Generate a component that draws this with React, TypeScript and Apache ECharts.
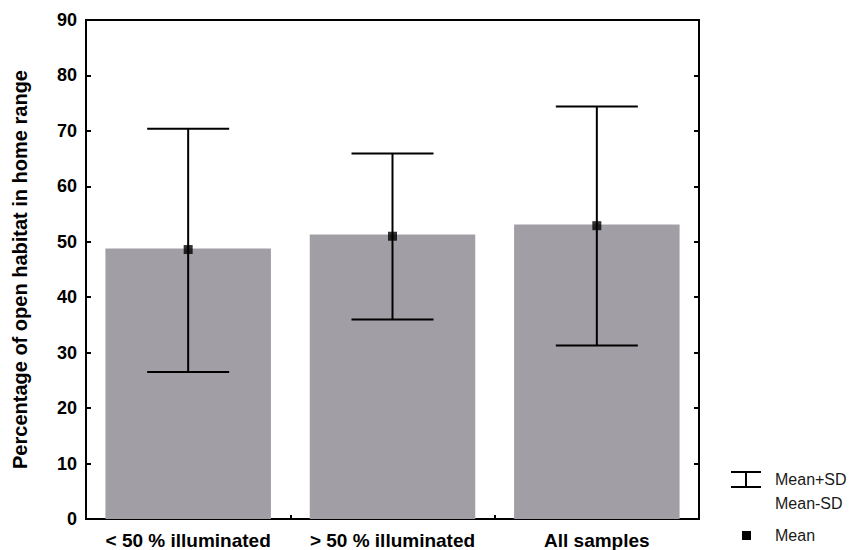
import React, { useEffect, useRef } from "react";
import * as echarts from "echarts";

const categories = ["< 50 % illuminated", "> 50 % illuminated", "All samples"];
const barValues = [48.8, 51.3, 53.1];
const meanValues = [48.6, 51.0, 52.9];
const upperValues = [70.4, 65.9, 74.4];
const lowerValues = [26.5, 36.0, 31.3];
const yMin = 0;
const yMax = 90;
const yInterval = 10;
const yAxisTitle = "Percentage of open habitat in home range";
const legendLabels = ["Mean+SD", "Mean-SD", "Mean"];

const FONT = "'Liberation Sans', Arial, Helvetica, sans-serif";

export default function App() {
  const ref = useRef<HTMLDivElement>(null);

  useEffect(() => {
    if (!ref.current) return;
    const chart = echarts.init(ref.current, null, { renderer: "svg" });

    const errorData = categories.map((_, i) => [i, lowerValues[i], upperValues[i]]);
    const meanData = meanValues.map((v, i) => [i, v]);

    const renderError = (params: any, api: any) => {
      const idx = api.value(0);
      const lo = api.coord([idx, api.value(1)]);
      const hi = api.coord([idx, api.value(2)]);
      const half = 41;
      const style = { stroke: "#000", lineWidth: 2 };
      return {
        type: "group",
        children: [
          { type: "line", shape: { x1: hi[0], y1: hi[1], x2: lo[0], y2: lo[1] }, style },
          { type: "line", shape: { x1: hi[0] - half, y1: hi[1], x2: hi[0] + half, y2: hi[1] }, style },
          { type: "line", shape: { x1: lo[0] - half, y1: lo[1], x2: lo[0] + half, y2: lo[1] }, style },
        ],
      };
    };

    const axisLine = { show: true, lineStyle: { color: "#000", width: 2 } };
    const tick = { show: true, inside: true, length: 5, lineStyle: { color: "#000", width: 2 } };

    chart.setOption({
      animation: false,
      grid: {
        left: 86,
        right: 155,
        top: 20,
        bottom: 30,
        show: true,
        borderColor: "#000",
        borderWidth: 2,
        backgroundColor: "transparent",
      },
      xAxis: [
        {
          type: "category",
          data: categories,
          axisLine,
          axisTick: { ...tick, length: 4 },
          axisLabel: {
            color: "#000",
            fontWeight: "bold",
            fontSize: 19,
            fontFamily: FONT,
            margin: 12,
            interval: 0,
            hideOverlap: false,
          },
          splitLine: { show: false },
        },
      ],
      yAxis: [
        {
          type: "value",
          min: yMin,
          max: yMax,
          interval: yInterval,
          axisLine,
          axisTick: tick,
          axisLabel: {
            color: "#000",
            fontWeight: "bold",
            fontSize: 18,
            fontFamily: FONT,
            margin: 9,
          },
          splitLine: { show: false },
          name: yAxisTitle,
          nameLocation: "middle",
          nameGap: 56,
          nameTextStyle: {
            color: "#000",
            fontWeight: "bold",
            fontSize: 20,
            fontFamily: FONT,
          },
        },
        {
          type: "value",
          position: "right",
          min: yMin,
          max: yMax,
          interval: yInterval,
          axisLine,
          axisTick: tick,
          axisLabel: { show: false },
          splitLine: { show: false },
        },
      ],
      series: [
        {
          type: "bar",
          data: barValues,
          barWidth: "81%",
          itemStyle: { color: "#a19fa5" },
          z: 1,
        },
        {
          type: "custom",
          data: errorData,
          renderItem: renderError,
          encode: { x: 0, y: [1, 2] },
          z: 3,
        },
        {
          type: "scatter",
          data: meanData,
          symbol: "rect",
          symbolSize: 9,
          itemStyle: { color: "#000" },
          z: 4,
        },
      ],
      graphic: [
        { type: "line", shape: { x1: 731, y1: 472, x2: 761, y2: 472 }, style: { stroke: "#000", lineWidth: 2 } },
        { type: "line", shape: { x1: 731, y1: 487, x2: 761, y2: 487 }, style: { stroke: "#000", lineWidth: 2 } },
        { type: "line", shape: { x1: 746, y1: 472, x2: 746, y2: 487 }, style: { stroke: "#000", lineWidth: 2 } },
        { type: "rect", shape: { x: 742, y: 531, width: 9, height: 9 }, style: { fill: "#000" } },
        {
          type: "text",
          x: 775,
          y: 479,
          style: { text: legendLabels[0], fill: "#1a1a1a", fontSize: 16, fontFamily: FONT, verticalAlign: "middle", align: "left" },
        },
        {
          type: "text",
          x: 775,
          y: 503,
          style: { text: legendLabels[1], fill: "#1a1a1a", fontSize: 16, fontFamily: FONT, verticalAlign: "middle", align: "left" },
        },
        {
          type: "text",
          x: 775,
          y: 535,
          style: { text: legendLabels[2], fill: "#1a1a1a", fontSize: 16, fontFamily: FONT, verticalAlign: "middle", align: "left" },
        },
      ],
    });

    return () => chart.dispose();
  }, []);

  return (
    <div
      ref={ref}
      style={{ position: "absolute", left: 0, top: 0, width: 854, height: 550 }}
    />
  );
}
